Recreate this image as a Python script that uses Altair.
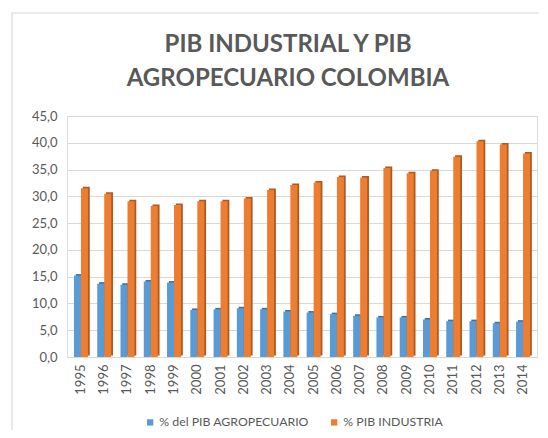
import altair as alt
import pandas as pd

years = [str(y) for y in range(1995, 2015)]
agro = [15.2, 13.7, 13.5, 14.1, 13.9, 8.8, 8.9, 9.1, 8.9, 8.5,
        8.3, 8.0, 7.7, 7.4, 7.4, 7.0, 6.7, 6.7, 6.3, 6.6]
industria = [31.5, 30.5, 29.1, 28.2, 28.4, 29.1, 29.1, 29.6, 31.2, 32.1,
             32.6, 33.6, 33.5, 35.3, 34.3, 34.8, 37.4, 40.3, 39.7, 38.0]
series_names = ["% del PIB AGROPECUARIO", "% PIB INDUSTRIA"]
series_colors = ["#5B9BD5", "#ED7D31"]
shadow_colors = ["#41719C", "#AE5A21"]
y_ticks = [0, 5, 10, 15, 20, 25, 30, 35, 40, 45]
title_lines = ["PIB INDUSTRIAL Y PIB", "AGROPECUARIO COLOMBIA"]

rows = []
for i, y in enumerate(years):
    rows.append({"year": y, "serie": series_names[0], "valor": agro[i]})
    rows.append({"year": y, "serie": series_names[1], "valor": industria[i]})
df = pd.DataFrame(rows)

FONT = "Lato"
TXT = "#595959"

x_enc = alt.X("year:N", sort=years,
              scale=alt.Scale(paddingInner=0, paddingOuter=0.1),
              axis=alt.Axis(title=None, labelAngle=-90, labelFontSize=13,
                            labelColor=TXT, labelFont=FONT, ticks=False,
                            domain=False, labelPadding=7, grid=False))
y_enc = alt.Y("valor:Q",
              scale=alt.Scale(domain=[0, 45], nice=False),
              axis=alt.Axis(title=None, values=y_ticks,
                            labelExpr="replace(format(datum.value, '.1f'), '.', ',')",
                            labelFontSize=13, labelColor=TXT, labelFont=FONT,
                            ticks=False, domain=False, labelPadding=10,
                            gridColor="#D9D9D9", gridWidth=1))

color_enc = alt.Color("serie:N",
                      scale=alt.Scale(domain=series_names, range=series_colors),
                      legend=alt.Legend(title=None, orient="none", direction="horizontal",
                                        legendX=77, legendY=300, symbolType="square",
                                        symbolSize=40, symbolStrokeWidth=0,
                                        labelFontSize=12.3, labelColor=TXT, labelFont=FONT,
                                        columnPadding=19, labelOffset=3, padding=0))

base = alt.Chart(df)

layers = []
for k, (name, dx) in enumerate(zip(series_names, [-3.5, 3.5])):
    shadow = base.transform_filter(alt.datum.serie == name).mark_bar(
        width=7, xOffset=dx + 1.8, yOffset=-1.5, color=shadow_colors[k]
    ).encode(x=x_enc, y=y_enc)
    main = base.transform_filter(alt.datum.serie == name).mark_bar(
        width=7, xOffset=dx
    ).encode(x=x_enc, y=y_enc, color=color_enc)
    layers += [shadow, main]

frame = alt.Chart(pd.DataFrame({"a": [0]})).mark_rect(
    fill=None, stroke="#D9D9D9", strokeWidth=1.2
).encode(x=alt.value(-55), x2=alt.value(600), y=alt.value(-103), y2=alt.value(500))

chart = alt.layer(frame, *layers).properties(
    width=470, height=241,
    title=alt.TitleParams(text=title_lines, fontSize=24, font=FONT, fontWeight="bold",
                          color=TXT, anchor="middle", lineHeight=34, offset=-79, dx=-14),
    padding={"left": 59, "top": 108, "right": 2, "bottom": 73},
    autosize=alt.AutoSizeParams(type="none")
).configure_view(stroke=None).configure(background="white")

chart.save("out.html", embed_options={"renderer": "svg", "actions": False})
